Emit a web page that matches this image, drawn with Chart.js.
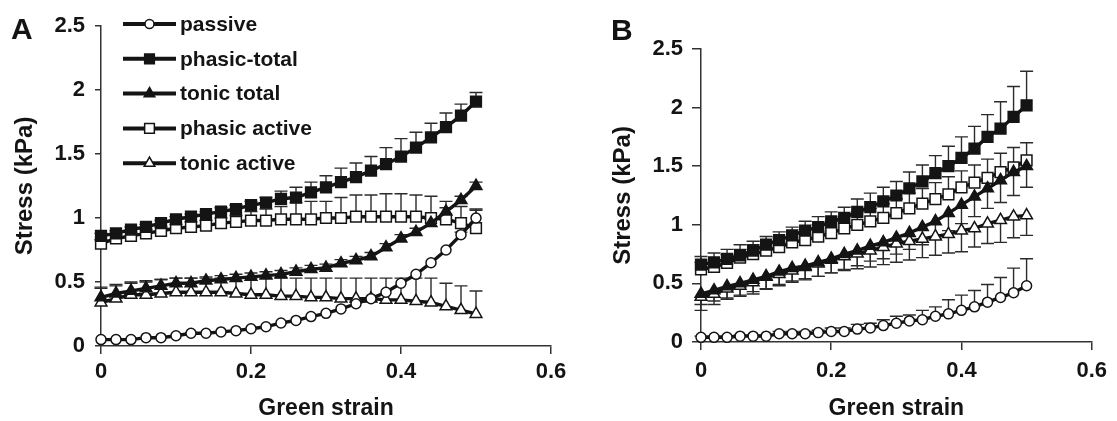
<!DOCTYPE html>
<html>
<head>
<meta charset="utf-8">
<script src="https://cdn.jsdelivr.net/npm/chart.js@4.4.1/dist/chart.umd.min.js"></script>
<style>
  html, body { margin: 0; padding: 0; background: #fff; }
  #wrap { position: relative; width: 1117px; height: 421px; overflow: hidden; }
  #wrap canvas { position: absolute; left: 0; top: 0; }
</style>
</head>
<body>
<div id="wrap">
  <canvas id="chartA" width="1117" height="421"></canvas>
  <canvas id="chartB" width="1117" height="421"></canvas>
</div>
<script>
// ---------------- DATA ----------------
const strain = [0,0.02,0.04,0.06,0.08,0.10,0.12,0.14,0.16,0.18,0.20,0.22,0.24,0.26,0.28,0.30,0.32,0.34,0.36,0.38,0.40,0.42,0.44,0.46,0.48,0.50];

const seriesNames = ['passive','phasic-total','tonic total','phasic active','tonic active'];
const xTickValues = [0, 0.2, 0.4, 0.6];
const xTickLabels = ['0', '0.2', '0.4', '0.6'];
const yTickValues = [0, 0.5, 1, 1.5, 2, 2.5];
const yTickLabels = ['0', '0.5', '1', '1.5', '2', '2.5'];
const xTitle = 'Green strain';
const yTitle = 'Stress (kPa)';

// Panel A
const passiveA      = [0.05,0.05,0.05,0.065,0.065,0.08,0.10,0.10,0.11,0.12,0.135,0.15,0.18,0.20,0.23,0.255,0.29,0.33,0.37,0.42,0.49,0.56,0.65,0.75,0.87,1.00];
const passiveAErr   = [0,0,0,0,0,0,0,0,0,0,0,0,0,0,0,0,0,0,0,0,0,0,0,0,0.02,0.07];
const phasicTotA    = [0.86,0.88,0.91,0.93,0.96,0.99,1.01,1.03,1.05,1.07,1.10,1.12,1.15,1.16,1.20,1.24,1.28,1.32,1.37,1.42,1.48,1.55,1.63,1.71,1.80,1.91];
const phasicTotAErr = [0.02,0.02,0.02,0.02,0.02,0.02,0.02,0.02,0.03,0.03,0.03,0.04,0.06,0.08,0.08,0.09,0.11,0.11,0.11,0.13,0.14,0.12,0.11,0.11,0.09,0.07];
const tonicTotA     = [0.38,0.41,0.43,0.45,0.47,0.49,0.49,0.51,0.52,0.53,0.54,0.55,0.56,0.58,0.60,0.61,0.645,0.67,0.70,0.77,0.84,0.89,0.96,1.05,1.14,1.25];
const tonicTotAErr  = [0.07,0.06,0.06,0.05,0.05,0.04,0.04,0.03,0.03,0.03,0.03,0.03,0.03,0.03,0.03,0.03,0.03,0.03,0.03,0.03,0.03,0.03,0.03,0.03,0.03,0.03];
const phasicActA    = [0.80,0.84,0.86,0.88,0.90,0.92,0.93,0.94,0.96,0.97,0.98,0.98,0.99,0.99,0.99,1.00,1.00,1.01,1.01,1.01,1.01,1.01,1.00,0.99,0.96,0.92];
const phasicActAErr = [0.03,0.03,0.03,0.03,0.03,0.03,0.04,0.04,0.04,0.05,0.07,0.09,0.10,0.13,0.14,0.13,0.16,0.17,0.17,0.18,0.18,0.17,0.17,0.14,0.13,0.14];
const tonicActA     = [0.34,0.37,0.40,0.40,0.41,0.42,0.42,0.42,0.42,0.41,0.40,0.40,0.39,0.39,0.38,0.38,0.37,0.37,0.37,0.36,0.36,0.35,0.34,0.31,0.28,0.25];
const tonicActAErr  = [0.12,0.11,0.10,0.11,0.11,0.11,0.11,0.11,0.11,0.12,0.13,0.13,0.14,0.14,0.15,0.15,0.16,0.16,0.16,0.17,0.17,0.18,0.19,0.18,0.19,0.18];

// Panel B
const passiveB      = [0.04,0.04,0.04,0.05,0.05,0.05,0.07,0.07,0.07,0.08,0.09,0.09,0.11,0.12,0.14,0.16,0.18,0.19,0.22,0.24,0.27,0.30,0.34,0.38,0.42,0.48];
const passiveBErr   = [0.01,0.01,0.01,0.01,0.01,0.01,0.02,0.02,0.02,0.02,0.03,0.03,0.04,0.04,0.05,0.06,0.05,0.08,0.08,0.12,0.13,0.14,0.15,0.17,0.21,0.23];
const phasicTotB    = [0.66,0.68,0.71,0.74,0.78,0.83,0.87,0.91,0.95,0.98,1.03,1.06,1.11,1.15,1.20,1.25,1.31,1.37,1.44,1.50,1.57,1.65,1.75,1.82,1.92,2.02];
const phasicTotBErr = [0.07,0.08,0.08,0.09,0.08,0.07,0.07,0.07,0.08,0.09,0.08,0.09,0.11,0.12,0.12,0.12,0.14,0.14,0.15,0.17,0.18,0.19,0.19,0.23,0.26,0.29];
const tonicTotB     = [0.41,0.44,0.475,0.50,0.53,0.56,0.60,0.63,0.65,0.68,0.71,0.75,0.78,0.82,0.85,0.89,0.93,0.98,1.03,1.10,1.17,1.24,1.31,1.38,1.45,1.50];
const tonicTotBErr  = [0.09,0.09,0.10,0.10,0.10,0.11,0.11,0.11,0.12,0.12,0.12,0.13,0.13,0.13,0.14,0.14,0.14,0.15,0.15,0.15,0.16,0.17,0.17,0.19,0.20,0.18];
const phasicActB    = [0.62,0.64,0.675,0.72,0.75,0.78,0.81,0.85,0.87,0.90,0.93,0.97,1.00,1.03,1.06,1.10,1.14,1.18,1.22,1.26,1.32,1.36,1.40,1.45,1.49,1.55];
const phasicActBErr = [0.06,0.06,0.07,0.07,0.08,0.08,0.08,0.09,0.09,0.10,0.10,0.10,0.11,0.11,0.12,0.12,0.13,0.13,0.14,0.15,0.14,0.15,0.16,0.16,0.17,0.15];
const tonicActB     = [0.385,0.41,0.455,0.48,0.51,0.555,0.58,0.61,0.64,0.67,0.70,0.73,0.755,0.78,0.81,0.84,0.86,0.88,0.90,0.92,0.95,0.97,1.01,1.04,1.07,1.08];
const tonicActBErr  = [0.115,0.09,0.09,0.09,0.10,0.10,0.10,0.10,0.10,0.11,0.11,0.12,0.13,0.14,0.15,0.16,0.16,0.16,0.16,0.16,0.18,0.16,0.17,0.19,0.18,0.17];

// ---------------- STYLE ----------------
const FONT = "'Liberation Sans', Arial, Helvetica, sans-serif";
const INK = '#141414';
const AXIS = '#333333';

const markerStyles = [
  { pointStyle: 'circle',   radius: 5.0, fill: '#ffffff' }, // passive
  { pointStyle: 'rect',     radius: 7.6, fill: INK },       // phasic-total
  { pointStyle: 'triangle', radius: 6.8, fill: INK },       // tonic total
  { pointStyle: 'rect',     radius: 7.6, fill: '#ffffff' }, // phasic active
  { pointStyle: 'triangle', radius: 6.8, fill: '#ffffff' }  // tonic active
];

function pts(vals) { return strain.map((x, i) => ({ x: x, y: vals[i] })); }

function makeDataset(idx, vals, err, dir) {
  const m = markerStyles[idx];
  return {
    label: seriesNames[idx],
    data: pts(vals),
    err: err,
    errDir: dir,
    borderColor: INK,
    borderWidth: 3.4,
    backgroundColor: m.fill,
    pointStyle: m.pointStyle,
    pointRadius: m.radius,
    pointBackgroundColor: m.fill,
    pointBorderColor: INK,
    pointBorderWidth: 1.5,
    tension: 0,
    fill: false,
    clip: false
  };
}

// draw marker shape like Chart.js drawPoint
function drawMarker(ctx, style, r, fill, x, y) {
  ctx.save();
  ctx.beginPath();
  if (style === 'circle') {
    ctx.arc(x, y, r, 0, Math.PI * 2);
  } else if (style === 'rect') {
    const s = Math.SQRT1_2 * r;
    ctx.rect(x - s, y - s, 2 * s, 2 * s);
  } else if (style === 'triangle') {
    ctx.moveTo(x, y - r);
    ctx.lineTo(x + 0.866 * r, y + 0.5 * r);
    ctx.lineTo(x - 0.866 * r, y + 0.5 * r);
    ctx.closePath();
  }
  ctx.fillStyle = fill;
  ctx.fill();
  ctx.lineWidth = 1.5;
  ctx.strokeStyle = INK;
  ctx.stroke();
  ctx.restore();
}

const errorBarPlugin = {
  id: 'errorBars',
  beforeDatasetsDraw(chart) {
    const ctx = chart.ctx, xs = chart.scales.x, ys = chart.scales.y;
    ctx.save();
    ctx.strokeStyle = '#2b2b2b';
    ctx.lineWidth = 1.4;
    chart.data.datasets.forEach(ds => {
      if (!ds.err) return;
      ds.data.forEach((p, i) => {
        const e = ds.err[i];
        if (!e) return;
        const px = xs.getPixelForValue(p.x);
        const py = ys.getPixelForValue(p.y);
        const pe = ys.getPixelForValue(p.y + ds.errDir * e);
        ctx.beginPath();
        ctx.moveTo(px, py);
        ctx.lineTo(px, pe);
        ctx.moveTo(px - 6.5, pe);
        ctx.lineTo(px + 6.5, pe);
        ctx.stroke();
      });
    });
    ctx.restore();
  }
};

const decorPlugin = {
  id: 'decor',
  afterDraw(chart, args, opts) {
    const ctx = chart.ctx;
    ctx.save();
    ctx.fillStyle = INK;
    ctx.font = 'bold 30px ' + FONT;
    ctx.textAlign = 'left';
    ctx.textBaseline = 'alphabetic';
    ctx.fillText(opts.panel, opts.panelX, opts.panelY);
    if (opts.legend) {
      const L = opts.legend;
      chart.data.datasets.forEach((ds, i) => {
        const y = L.y0 + L.dy * i;
        ctx.beginPath();
        ctx.strokeStyle = INK;
        ctx.lineWidth = 4;
        ctx.moveTo(L.x0, y);
        ctx.lineTo(L.x1, y);
        ctx.stroke();
        const m = markerStyles[i];
        drawMarker(ctx, m.pointStyle, m.radius * 0.9, m.fill, (L.x0 + L.x1) / 2, y);
        ctx.fillStyle = INK;
        ctx.font = 'bold 21px ' + FONT;
        ctx.textBaseline = 'middle';
        ctx.fillText(ds.label, L.tx, y + 1);
      });
    }
    ctx.restore();
  }
};

function makeOptions(cfg) {
  return {
    responsive: false,
    animation: false,
    events: [],
    layout: { padding: cfg.padding },
    plugins: {
      legend: { display: false },
      tooltip: { enabled: false },
      decor: cfg.decor
    },
    scales: {
      x: {
        type: 'linear',
        min: 0, max: 0.6,
        afterBuildTicks: s => { s.ticks = xTickValues.map(v => ({ value: v })); },
        afterFit: s => { s.height = cfg.xHeight; },
        ticks: {
          callback: (v, i) => xTickLabels[i],
          color: INK,
          font: { family: FONT, size: 22, weight: 'bold', lineHeight: 1 },
          padding: cfg.xTickPad,
          maxRotation: 0, autoSkip: false
        },
        grid: { display: true, drawOnChartArea: false, drawTicks: true, tickLength: 8, color: AXIS, lineWidth: 1.5 },
        border: { display: true, color: AXIS, width: 1.5 },
        title: {
          display: true, text: xTitle, color: INK,
          font: { family: FONT, size: 23, weight: 'bold', lineHeight: 1 },
          padding: { top: 0, bottom: 1 }
        }
      },
      y: {
        type: 'linear',
        min: 0, max: 2.5,
        afterBuildTicks: s => { s.ticks = yTickValues.map(v => ({ value: v })); },
        afterFit: s => { s.width = cfg.yWidth; },
        ticks: {
          callback: (v, i) => yTickLabels[i],
          color: INK,
          font: { family: FONT, size: 22, weight: 'bold', lineHeight: 1 },
          padding: cfg.yTickPad,
          autoSkip: false
        },
        grid: { display: true, drawOnChartArea: false, drawTicks: true, tickLength: cfg.yTickLen, color: AXIS, lineWidth: 1.5 },
        border: { display: true, color: AXIS, width: 1.5 },
        title: {
          display: true, text: yTitle, color: INK,
          font: { family: FONT, size: 24, weight: 'bold', lineHeight: 1 },
          padding: { top: cfg.yTitlePad, bottom: 0 }
        }
      }
    }
  };
}

new Chart(document.getElementById('chartA'), {
  type: 'line',
  data: {
    datasets: [
      makeDataset(0, passiveA, passiveAErr, 1),
      makeDataset(1, phasicTotA, phasicTotAErr, 1),
      makeDataset(2, tonicTotA, tonicTotAErr, 1),
      makeDataset(3, phasicActA, phasicActAErr, 1),
      makeDataset(4, tonicActA, tonicActAErr, 1)
    ]
  },
  options: makeOptions({
    padding: { left: 0, top: 26, right: 566, bottom: 0 },
    xHeight: 75, yWidth: 101, xTickPad: 7, yTickPad: 10, yTickLen: 6, yTitlePad: 13,
    decor: { panel: 'A', panelX: 11, panelY: 39,
             legend: { x0: 123, x1: 176, tx: 180, y0: 24, dy: 34.8 } }
  }),
  plugins: [errorBarPlugin, decorPlugin]
});

new Chart(document.getElementById('chartB'), {
  type: 'line',
  data: {
    datasets: [
      makeDataset(0, passiveB, passiveBErr, 1),
      makeDataset(1, phasicTotB, phasicTotBErr, 1),
      makeDataset(2, tonicTotB, tonicTotBErr, -1),
      makeDataset(3, phasicActB, phasicActBErr, 1),
      makeDataset(4, tonicActB, tonicActBErr, -1)
    ]
  },
  options: makeOptions({
    padding: { left: 590, top: 49, right: 24, bottom: 0 },
    xHeight: 79, yWidth: 111, xTickPad: 10, yTickPad: 9, yTickLen: 9, yTitlePad: 21,
    decor: { panel: 'B', panelX: 611, panelY: 40, legend: null }
  }),
  plugins: [errorBarPlugin, decorPlugin]
});
</script>
</body>
</html>
